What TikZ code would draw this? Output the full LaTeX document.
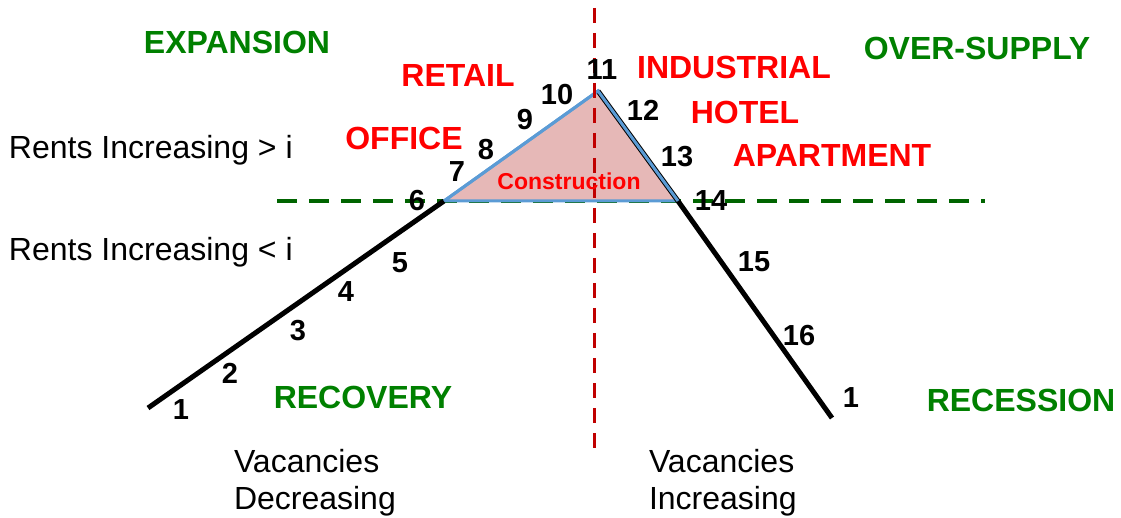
\documentclass[tikz,border=0pt]{standalone}
\usepackage{fontspec}
\setmainfont{Liberation Sans}
\definecolor{txtgreen}{RGB}{0,128,0}
\definecolor{linegreen}{RGB}{0,100,0}
\definecolor{darkred}{RGB}{192,0,0}
\definecolor{pinkfill}{RGB}{230,184,183}
\definecolor{edgeblue}{RGB}{91,155,213}
\begin{document}
\begin{tikzpicture}[x=1pt,y=-1pt,
  every node/.style={inner sep=0pt,outer sep=0pt},
  phase/.style={text=txtgreen,font=\fontsize{32}{36}\selectfont\bfseries},
  sector/.style={text=red,font=\fontsize{32}{36}\selectfont\bfseries},
  num/.style={text=black,font=\fontsize{29}{34}\selectfont\bfseries},
  plain/.style={text=black,font=\fontsize{32}{38}\selectfont,anchor=west},
  vac/.style={text=black,font=\fontsize{32}{37}\selectfont,align=left,anchor=north west},
  cycle/.style={line width=5pt,black},
  tri/.style={fill=pinkfill,draw=edgeblue,line width=3pt,line join=miter},
  rate/.style={linegreen,line width=3.2pt,dash pattern=on 20pt off 12pt},
  axis/.style={darkred,line width=3pt,dash pattern=on 15pt off 10pt}]
\useasboundingbox (0,0) rectangle (1121,518);
% coordinates of the cycle curve
\coordinate (p1) at (148,408);
\coordinate (p6) at (444,201);
\coordinate (p11) at (598,91);
\coordinate (p14) at (678,201);
\coordinate (p17) at (832,418);
\coordinate (gl) at (277,201);
\coordinate (gr) at (985,201);
\coordinate (vt) at (594,8);
\coordinate (vb) at (594,452);
% green rate line
\draw[rate] (gl) -- (gr);
% triangle
\draw[tri] (p6) -- (p11) -- (p14) -- cycle;
% cycle line
\draw[cycle] (p1) -- (p6);
\draw[cycle] (p11) -- (p14) -- (p17);
\draw[tri,fill=none] (p6) -- (p11) -- (p14);
% vertical axis
\draw[axis] (vt) -- (vb);
\node[text=red,font=\fontsize{23}{28}\selectfont\bfseries] (cons) at (569,181) {Construction};
% phase labels
\node[phase] (exp) at (237,42) {EXPANSION};
\node[phase] (over) at (977,48) {OVER-SUPPLY};
\node[phase] (rec) at (363,397) {RECOVERY};
\node[phase] (recs) at (1021,400) {RECESSION};
% sectors
\node[sector] (retail) at (458,75) {RETAIL};
\node[sector] (ind) at (734,67) {INDUSTRIAL};
\node[sector] (hotel) at (745,112) {HOTEL};
\node[sector] (office) at (404,138) {OFFICE};
\node[sector] (apt) at (832,155) {APARTMENT};
% left texts
\node[plain] (rup) at (9,150) {Rents Increasing {>} i};
\node[plain] (rdn) at (9,252) {Rents Increasing {<} i};
\node[vac] (vd) at (234,449) {Vacancies\\Decreasing};
\node[vac] (vi) at (649,449) {Vacancies\\Increasing};
% numbers
\node[num] (n1) at (181,410) {1};
\node[num] (n2) at (230,373) {2};
\node[num] (n3) at (298,331) {3};
\node[num] (n4) at (346,292) {4};
\node[num] (n5) at (400,263) {5};
\node[num] (n6) at (417,201) {6};
\node[num] (n7) at (457,172) {7};
\node[num] (n8) at (486,150) {8};
\node[num] (n9) at (525,120) {9};
\node[num] (n10) at (557,95) {10};
\node[num] (n11) at (602,70) {11};
\node[num] (n12) at (643,110) {12};
\node[num] (n13) at (677,157) {13};
\node[num] (n14) at (711,201) {14};
\node[num] (n15) at (754,262) {15};
\node[num] (n16) at (799,336) {16};
\node[num] (n1b) at (851,398) {1};
\end{tikzpicture}
\end{document}
